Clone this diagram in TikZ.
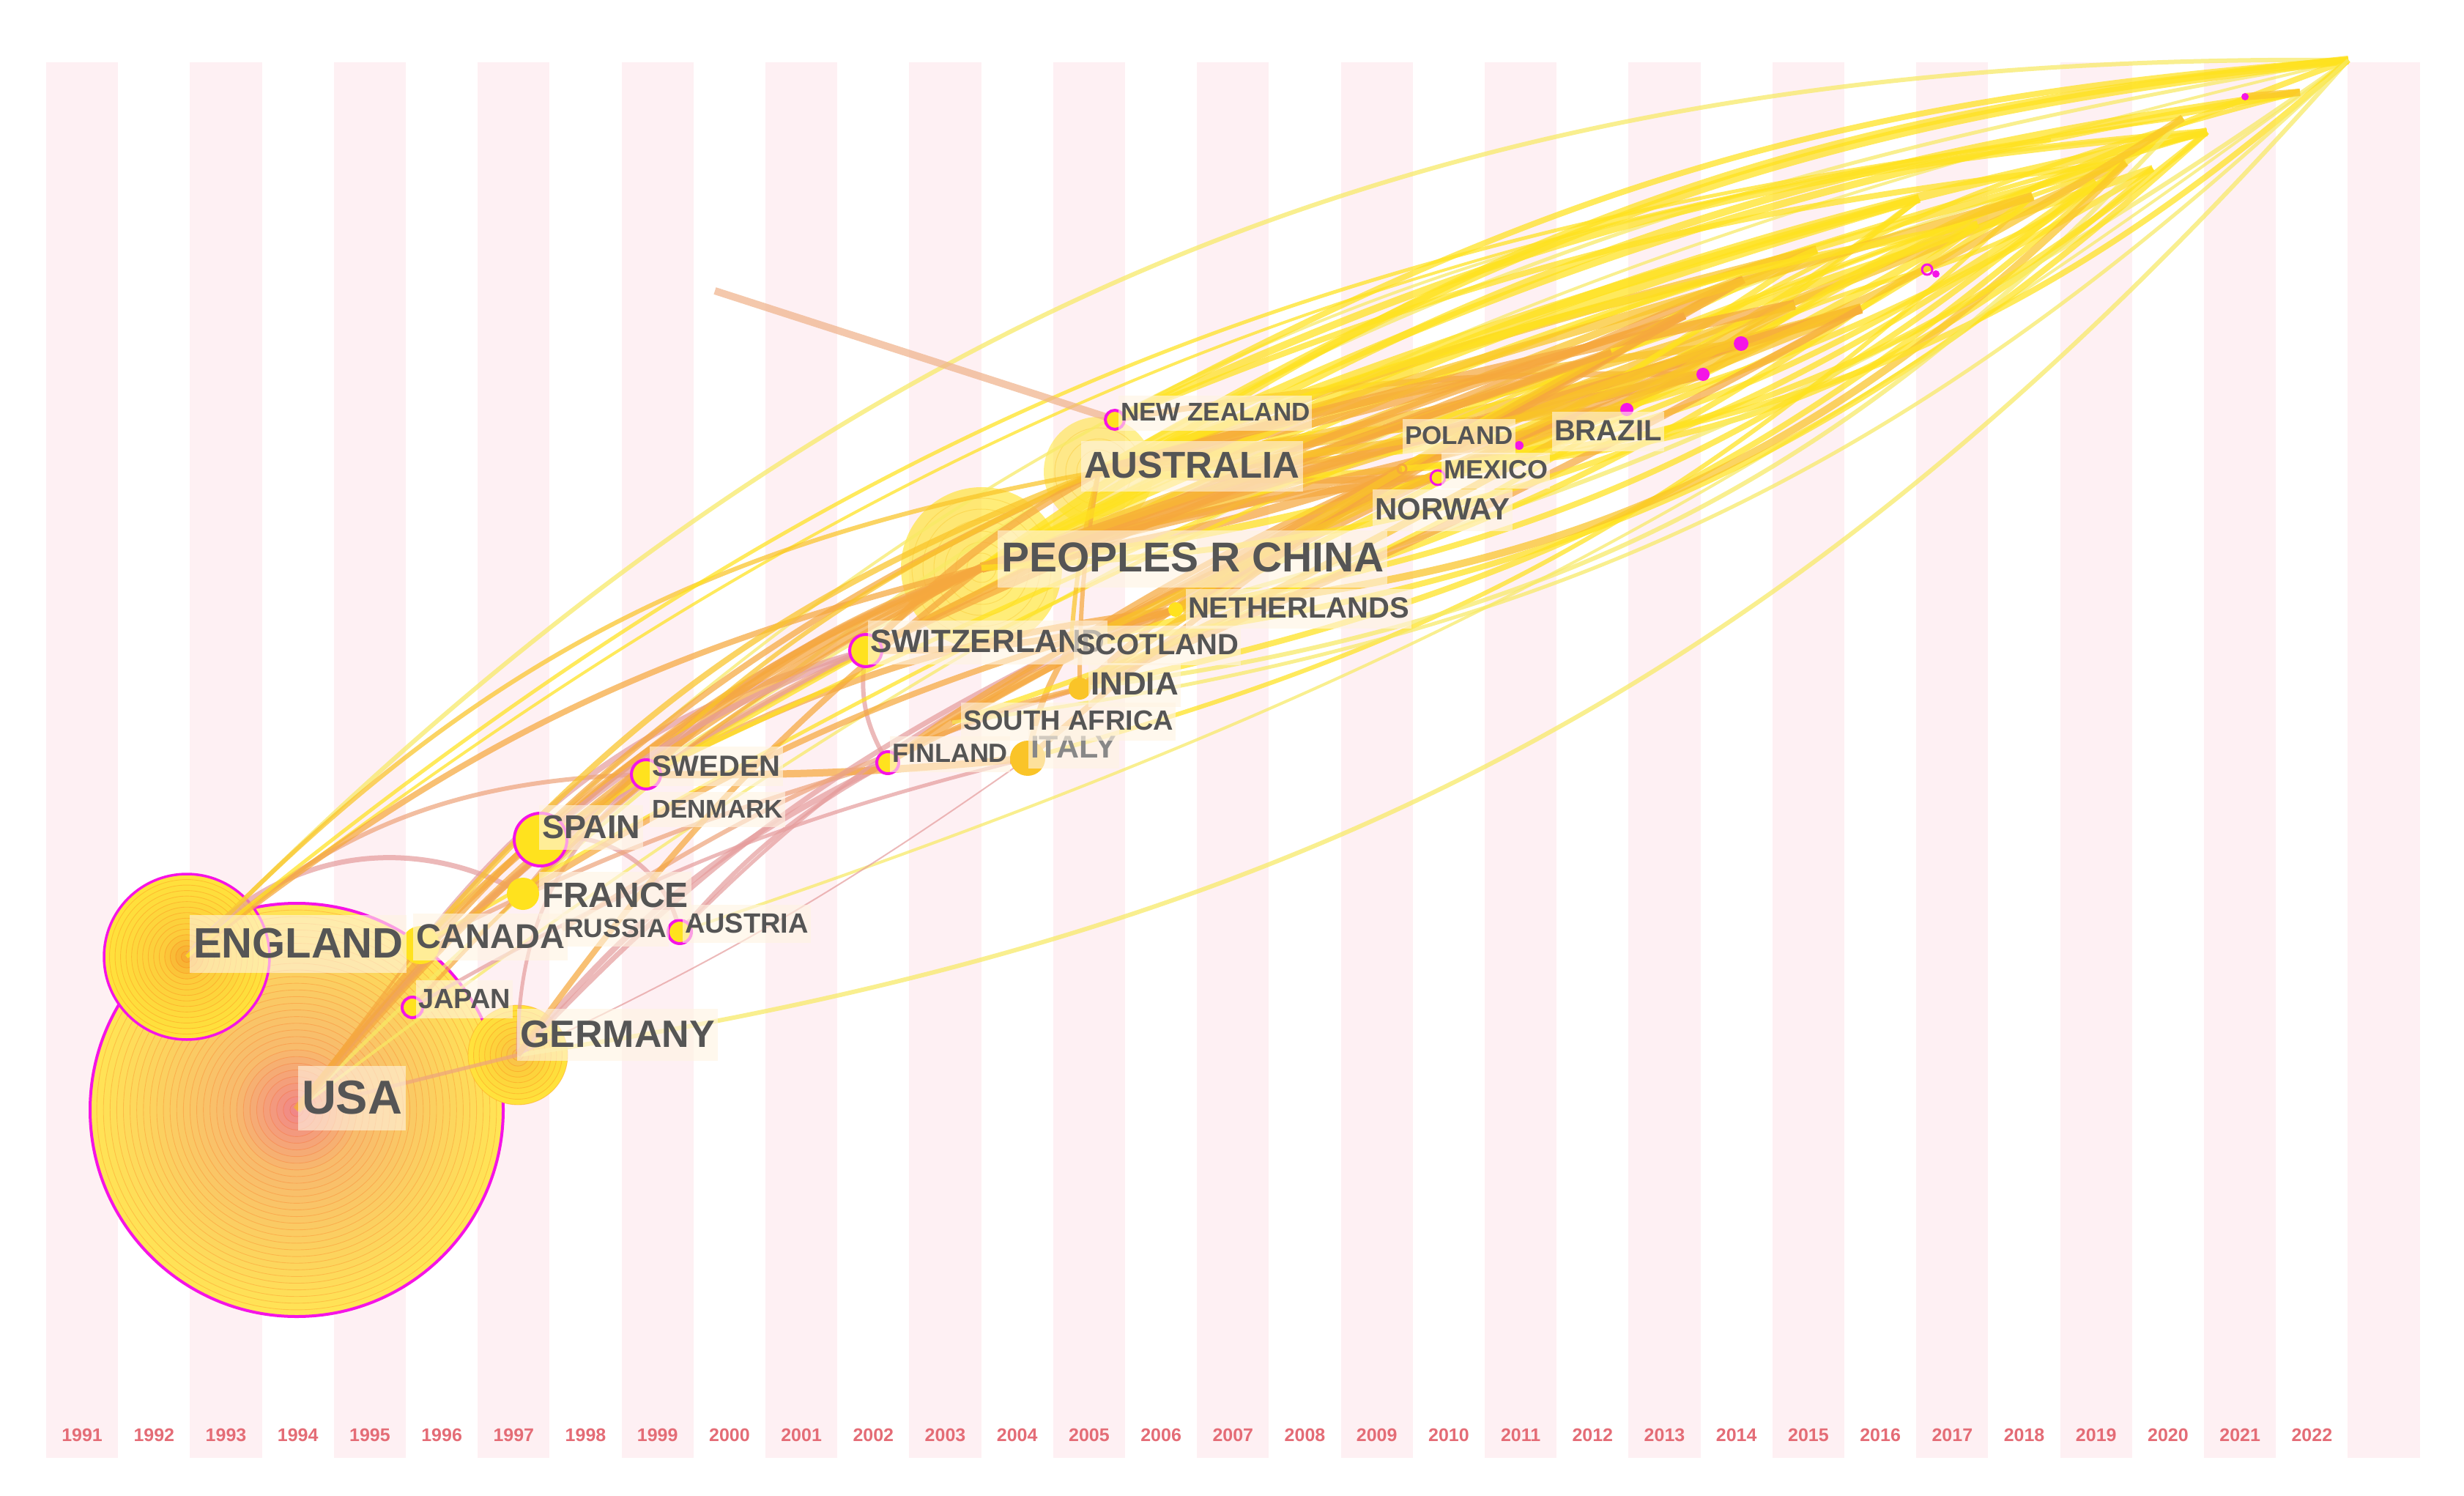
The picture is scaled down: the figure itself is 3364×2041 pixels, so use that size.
\documentclass[tikz,border=0pt]{standalone}
\usepackage{fontspec}
\setmainfont{Liberation Sans}
\definecolor{stripe}{RGB}{254,240,243}
\definecolor{yearc}{RGB}{228,108,118}
\definecolor{labgray}{RGB}{85,85,85}
\definecolor{labbg}{RGB}{255,244,226}
\definecolor{mag}{RGB}{245,20,230}
\definecolor{cPink}{RGB}{230,158,158}
\definecolor{cSalmon}{RGB}{238,165,125}
\definecolor{cOrange}{RGB}{246,168,62}
\definecolor{cGold}{RGB}{250,196,40}
\definecolor{cYellow}{RGB}{255,226,30}
\definecolor{cPale}{RGB}{248,234,100}
\definecolor{cPeach}{RGB}{240,180,140}
\definecolor{ringY}{RGB}{255,228,85}
\definecolor{ringO}{RGB}{248,188,108}
\definecolor{ringR}{RGB}{240,135,135}
\definecolor{engY}{RGB}{255,226,60}
\definecolor{engO}{RGB}{252,206,60}
\definecolor{engC}{RGB}{247,172,50}
\definecolor{gerC}{RGB}{246,190,80}
\newcommand\treering[7]{%
  \foreach \k in {0,...,#4}{%
    \pgfmathsetmacro\rr{#3*(1-\k/(#4+1))}%
    \pgfmathtruncatemacro\pa{min(100,150*\k/#4)}%
    \pgfmathtruncatemacro\pb{max(0,333*\k/#4-233)}%
    \colorlet{rcA}{#6!\pa!#5}%
    \colorlet{rcB}{#7!\pb!rcA}%
    \fill[rcB] (#1,#2) circle[radius=\rr];
    \draw[rcB!70!orange!85!red, line width=0.09pt, draw opacity=0.55] (#1,#2) circle[radius=\rr];
  }%
}
\newcommand\lbl[6]{%
  \pgfmathsetmacro\fs{#4/10}%
  \pgfmathsetmacro\lh{0.086*#4}\pgfmathsetmacro\ld{0.022*#4}%
  \pgfmathsetmacro\ly{0.014*#4}\pgfmathsetmacro\lx{0.08*#4}\pgfmathsetmacro\lxp{0.008*#4}%
  \node[lab, text=#5, font=\fontsize{\fs}{\fs}\selectfont\bfseries,
        text height=\lh pt, text depth=\ld pt, inner ysep=\ly pt, inner xsep=\lxp pt]
        (#1) at ({#2-\lx},#3) {#6};}
\tikzset{
  lab/.style={anchor=base west, fill=labbg, fill opacity=0.62, text opacity=1},
  yearlab/.style={font=\fontsize{2.5}{2.5}\selectfont\bfseries, text=yearc, inner sep=0pt},
  magring/.style={fill=cYellow, draw=mag, line width=0.4pt},
  magdot/.style={fill=mag}
}
\begin{document}
\begin{tikzpicture}[x=0.1pt,y=0.1pt]
\useasboundingbox (0,0) rectangle (3364,2041);
\fill[white] (0,0) rectangle (3364,2041);
% time-zone stripes
\foreach \i in {0,2,...,32}{\fill[stripe] ({63+98.2*\i},51) rectangle ++(98.2,1905);}
\foreach \yr [count=\i from 0] in {1991,...,2022}{
  \node[yearlab] (y\yr) at ({112.1+98.2*\i},82) {\yr};}
% node positions
\coordinate (usa) at (405,526);
\coordinate (eng) at (255,735);
\coordinate (ger) at (707,601);
\coordinate (can) at (574,751);
\coordinate (jap) at (563,666);
\coordinate (fra) at (714,821);
\coordinate (spa) at (738,895);
\coordinate (swe) at (882,984);
\coordinate (den) at (884,941);
\coordinate (rus) at (768,772);
\coordinate (aut) at (928,769);
\coordinate (fin) at (1212,1000);
\coordinate (ita) at (1403,1006);
\coordinate (saf) at (1300,1055);
\coordinate (ind) at (1474,1101);
\coordinate (swi) at (1182,1153);
\coordinate (sco) at (1462,1160);
\coordinate (net) at (1605,1209);
\coordinate (chn) at (1340,1266);
\coordinate (aus) at (1500,1397);
\coordinate (nz) at (1522,1468);
\coordinate (pol) at (2074,1433);
\coordinate (mex) at (1963,1389);
\coordinate (nor) at (1914,1401);
\coordinate (bra) at (2221,1482);
\coordinate (d1) at (2325,1530);
\coordinate (d2) at (2377,1572);
\coordinate (d3) at (2631,1673);
\coordinate (d4) at (2643,1667);
\coordinate (d5) at (3065,1909);
\coordinate (n22) at (3206,1959);
\coordinate (ostart) at (976,1644);
\coordinate (e1) at (3140,1915);
\coordinate (e2) at (3013,1861);
\coordinate (e3) at (2902,1819);
\coordinate (e4) at (2939,1811);
\coordinate (e5) at (2775,1773);
\coordinate (e6) at (2541,1620);
\coordinate (e7) at (2700,1735);
\coordinate (e8) at (2860,1795);
\coordinate (e9) at (2480,1700);
\coordinate (e10) at (2620,1770);
\coordinate (e11) at (2380,1660);
\coordinate (e12) at (2300,1610);
\coordinate (e13) at (2980,1880);
\coordinate (e14) at (2800,1850);
\coordinate (e15) at (2200,1560);
\coordinate (e16) at (2450,1625);
% big nodes
\treering{405}{526}{282}{30}{ringY}{ringO}{ringR}
\draw[mag, line width=0.4pt] (usa) circle[radius=282];
\treering{255}{735}{113}{14}{engY}{engO}{engC}
\draw[mag, line width=0.35pt] (eng) circle[radius=113];
\treering{707}{601}{68}{8}{engY}{engO}{gerC}
\fill[cYellow, fill opacity=0.6] (chn) circle[radius=110];
\foreach \r in {95,80,65,50,35,20}{\draw[cGold, line width=0.1pt, draw opacity=0.4] (chn) circle[radius=\r];}
\fill[cYellow, fill opacity=0.5] (aus) circle[radius=75];
\foreach \r in {60,45,30,15}{\draw[cGold, line width=0.1pt, draw opacity=0.4] (aus) circle[radius=\r];}
% links
\begin{scope}[draw opacity=0.72]
\foreach \a/\b/\bd/\c/\w in {
 eng/n22/23/cPale/6, usa/n22/18/cPale/5, ger/n22/-20/cPale/6, aut/n22/-9/cPale/4,
 can/e2/20/cPale/4, eng/e13/15/cYellow/4, spa/n22/10/cPale/4, usa/e2/10/cPale/4,
 eng/fra/40/cPink/7, usa/swi/12/cPink/7, can/swi/18/cPink/8, usa/swe/8/cPink/7,
 ger/fin/12/cPink/8, ger/swe/25/cPink/5, spa/aut/45/cPink/6, aut/fin/10/cPink/6,
 fra/swi/10/cSalmon/8, jap/ita/8/cPink/5, can/fin/5/cSalmon/6, usa/ger/0/cSalmon/5,
 usa/can/0/cOrange/4, eng/swe/20/cSalmon/6, swe/ita/-3/cOrange/10, fra/chn/15/cSalmon/8,
 spa/chn/10/cOrange/8, swi/fin/-20/cPink/6, ger/sco/10/cPink/7, rus/ind/8/cSalmon/6,
 aut/net/12/cPink/5, ger/ita/-5/cPink/2, jap/chn/10/cOrange/5,
 swi/chn/10/cOrange/8, swi/net/-8/cOrange/9, fin/ind/8/cOrange/7, ita/sco/10/cOrange/8,
 fin/sco/5/cOrange/8, swe/net/10/cOrange/9, can/chn/10/cOrange/10, eng/chn/12/cOrange/8,
 eng/aus/18/cGold/6, usa/aus/14/cOrange/8, saf/nor/5/cOrange/8, ind/nor/8/cOrange/8,
 chn/mex/5/cOrange/10, aus/mex/-3/cOrange/9, nz/d1/5/cOrange/8, chn/nor/-5/cOrange/12,
 net/pol/8/cGold/8, sco/bra/5/cOrange/8,
 chn/e1/12/cYellow/10, chn/e2/8/cYellow/12, chn/e3/5/cYellow/10, chn/e5/-5/cGold/12,
 chn/e7/-12/cYellow/10, chn/n22/15/cYellow/10, aus/n22/12/cYellow/12, aus/e1/8/cYellow/10,
 aus/e3/-8/cGold/10, aus/e4/-15/cYellow/8, aus/e8/-20/cYellow/8, aus/e6/-5/cGold/14,
 aus/d2/5/cGold/10, nor/e10/-10/cYellow/8, nor/e4/-20/cYellow/8, mex/e5/-10/cYellow/8,
 pol/e1/10/cYellow/6, bra/d3/10/cYellow/6, d1/e2/10/cYellow/8, d2/n22/5/cYellow/8,
 net/e8/-15/cYellow/8, net/n22/-10/cPale/6, ind/e3/-15/cYellow/8, sco/e7/-12/cYellow/8,
 ita/e5/-14/cYellow/6, saf/e10/-10/cYellow/7,
 can/e5/5/cYellow/5, eng/e14/16/cYellow/5, swe/e3/3/cYellow/6,
 spa/e2/8/cYellow/6, d5/e1/0/cGold/10, chn/e9/0/cGold/10, chn/e11/-3/cOrange/10,
 aus/e12/-3/cOrange/10, nor/e6/5/cGold/12, mex/d1/5/cOrange/8, fra/aus/12/cGold/6,
 ind/aus/5/cOrange/6, sco/aus/5/cGold/6, net/e9/-5/cYellow/8, d3/e3/-10/cYellow/6,
 chn/d1/3/cOrange/14, chn/bra/0/cOrange/12, aus/bra/3/cGold/12, swi/aus/8/cOrange/10,
 net/d2/3/cOrange/10, sco/e12/0/cOrange/10, ind/e11/3/cGold/10, chn/e6/0/cOrange/14,
 aus/e9/3/cGold/12, nor/d2/5/cGold/10, nor/e9/3/cYellow/10, mex/e6/0/cGold/10,
 net/e11/0/cOrange/12, swi/e12/5/cOrange/10, chn/e10/5/cYellow/12, aus/e10/3/cYellow/12,
 aus/e5/0/cGold/12, aus/e7/5/cYellow/10, chn/e4/0/cYellow/10, nz/e3/8/cYellow/8,
 nz/e2/10/cYellow/10, nz/n22/12/cYellow/8, ind/e6/-3/cOrange/10, saf/e12/0/cOrange/8,
 ita/nor/3/cOrange/8, fin/net/5/cOrange/10, swe/chn/12/cOrange/10, usa/chn/12/cOrange/12,
 ger/chn/8/cOrange/8, spa/swi/10/cPink/8, fra/net/8/cOrange/8, can/aus/14/cGold/8,
 chn/e15/0/cOrange/12, aus/e16/2/cOrange/14, net/e15/2/cGold/10, sco/e16/0/cGold/10,
 swi/e15/3/cOrange/8, ind/e16/-2/cGold/10,
 chn/e13/-18/cYellow/8, sco/e2/-18/cYellow/8, net/e3/-20/cGold/10, nor/n22/-18/cYellow/8,
 ind/e13/-20/cPale/6, mex/e2/-15/cYellow/8, aus/e13/-15/cGold/10, saf/n22/-18/cPale/5}
 {\pgfmathsetmacro\lw{\w/10}\draw[color=\c, line width=\lw pt] (\a) to[bend left=\bd] (\b);}
\draw[cPeach, line width=1pt] (ostart) -- (nz);
\end{scope}
% small nodes
\fill[cYellow] (can) circle[radius=26];
\fill[cYellow] (fra) circle[radius=22];
\fill[cGold] (ita) circle[radius=24];
\fill[cGold] (ind) circle[radius=15];
\fill[cYellow] (net) circle[radius=10];
\filldraw[magring] (spa) circle[radius=36];
\filldraw[magring] (jap) circle[radius=14];
\filldraw[magring] (swe) circle[radius=20];
\filldraw[magring] (aut) circle[radius=16];
\filldraw[magring] (fin) circle[radius=15];
\filldraw[magring] (swi) circle[radius=22];
\filldraw[magring] (nz) circle[radius=13];
\filldraw[magring, line width=0.3pt] (mex) circle[radius=10];
\draw[cOrange, line width=0.3pt] (nor) circle[radius=6];
\fill[magdot] (pol) circle[radius=6];
\fill[magdot] (bra) circle[radius=9];
\fill[magdot] (d1) circle[radius=9];
\fill[magdot] (d2) circle[radius=10];
\draw[mag, line width=0.3pt] (d3) circle[radius=7];
\fill[magdot] (d4) circle[radius=5];
\fill[magdot] (d5) circle[radius=5];
% labels
\lbl{lusa}{410}{521}{65}{labgray}{USA}
\lbl{leng}{262}{734}{58}{labgray}{ENGLAND}
\lbl{lcan}{566}{747}{47}{labgray}{CANADA}
\lbl{lrus}{768}{762}{37}{labgray}{RUSSIA}
\lbl{laut}{933}{768}{38}{labgray}{AUSTRIA}
\lbl{lfra}{738}{803}{48}{labgray}{FRANCE}
\lbl{ljap}{569}{665}{38}{labgray}{JAPAN}
\lbl{lger}{708}{612}{52}{labgray}{GERMANY}
\lbl{lspa}{738}{897}{45}{labgray}{SPAIN}
\lbl{lswe}{888}{982}{40}{labgray}{SWEDEN}
\lbl{lden}{888}{925}{35}{labgray}{DENMARK}
\lbl{lfin}{1216}{1000}{36}{labgray}{FINLAND}
\lbl{lita}{1405}{1007}{43}{labgray!70}{ITALY}
\lbl{lsaf}{1313}{1044}{38}{labgray}{SOUTH AFRICA}
\lbl{lind}{1487}{1092}{44}{labgray}{INDIA}
\lbl{lswi}{1186}{1150}{44}{labgray}{SWITZERLAND}
\lbl{lsco}{1467}{1147}{40}{labgray}{SCOTLAND}
\lbl{lnet}{1620}{1197}{40}{labgray}{NETHERLANDS}
\lbl{lchn}{1365}{1260}{57}{labgray}{PEOPLES R CHINA}
\lbl{laus}{1478}{1388}{51}{labgray}{AUSTRALIA}
\lbl{lnz}{1528}{1466}{35}{labgray}{NEW ZEALAND}
\lbl{lpol}{1916}{1434}{35}{labgray}{POLAND}
\lbl{lmex}{1969}{1387}{36}{labgray}{MEXICO}
\lbl{lnor}{1875}{1331}{42}{labgray}{NORWAY}
\lbl{lbra}{2120}{1439}{40}{labgray}{BRAZIL}
\end{tikzpicture}
\end{document}
